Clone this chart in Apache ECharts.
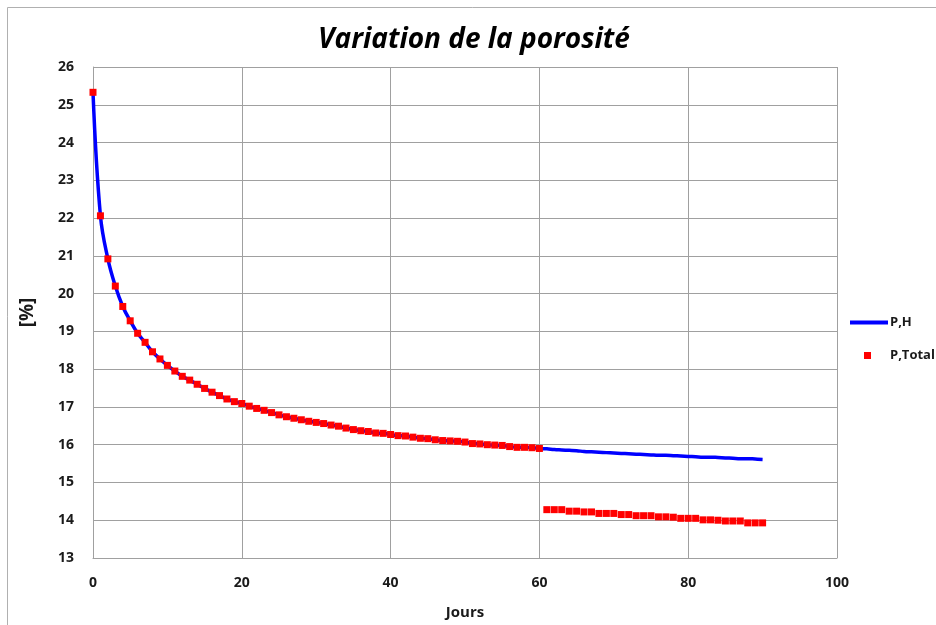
<!DOCTYPE html>
<html>
<head>
<meta charset="utf-8">
<script src="https://cdn.jsdelivr.net/npm/echarts@6/dist/echarts.min.js"></script>
<style>
  html, body { margin: 0; padding: 0; background: #fff; }
  #chart { width: 936px; height: 625px; }
</style>
</head>
<body>
<div id="chart"></div>
<script>
// Porosity (%) measured per day
const totalEarly = [
  25.33, 22.06, 20.92, 20.20, 19.66, 19.28, 18.95, 18.71, 18.46, 18.27,
  18.10, 17.95, 17.81, 17.71, 17.60, 17.49, 17.39, 17.30, 17.21, 17.14,
  17.09, 17.02, 16.96, 16.91, 16.85, 16.79, 16.74, 16.70, 16.66, 16.62,
  16.59, 16.56, 16.52, 16.49, 16.44, 16.40, 16.37, 16.35, 16.31, 16.30,
  16.27, 16.24, 16.23, 16.20, 16.17, 16.16, 16.13, 16.11, 16.10, 16.09,
  16.07, 16.03, 16.02, 16.00, 15.99, 15.98, 15.95, 15.93, 15.93, 15.92,
  15.90
];
// days 61..90
const totalLate = [
  14.28, 14.28, 14.28, 14.24, 14.24, 14.22, 14.22, 14.18, 14.18, 14.18,
  14.15, 14.15, 14.12, 14.12, 14.12, 14.09, 14.09, 14.08, 14.05, 14.05,
  14.05, 14.01, 14.01, 14.00, 13.98, 13.98, 13.98, 13.93, 13.93, 13.93
];
// P,H curve, days 0..90
const pH = [
  25.33, 22.06, 20.92, 20.20, 19.66, 19.28, 18.95, 18.71, 18.46, 18.27,
  18.10, 17.95, 17.81, 17.71, 17.60, 17.49, 17.39, 17.30, 17.21, 17.14,
  17.09, 17.02, 16.96, 16.91, 16.85, 16.79, 16.74, 16.70, 16.66, 16.62,
  16.59, 16.56, 16.52, 16.49, 16.44, 16.40, 16.37, 16.35, 16.31, 16.30,
  16.27, 16.24, 16.23, 16.20, 16.17, 16.16, 16.13, 16.11, 16.10, 16.09,
  16.07, 16.03, 16.02, 16.00, 15.99, 15.98, 15.95, 15.93, 15.93, 15.92,
  15.90, 15.89, 15.87, 15.86, 15.85, 15.84, 15.82, 15.81, 15.80, 15.79,
  15.78, 15.77, 15.76, 15.75, 15.74, 15.73, 15.72, 15.72, 15.71, 15.70,
  15.69, 15.68, 15.67, 15.67, 15.66, 15.65, 15.64, 15.63, 15.63, 15.62,
  15.61
];
const lateStartDay = 61;

const seriesTotal = totalEarly.map((v, d) => [d, v])
  .concat(totalLate.map((v, i) => [lateStartDay + i, v]));
const seriesPH = pH.map((v, d) => [d, v]);

const FONT = '"Open Sans", "Liberation Sans", sans-serif';
const gridColor = '#a0a0a0';
const legendText = { fontFamily: FONT, fontSize: 13, fontWeight: 'bold', color: '#1a1a1a' };

const chart = echarts.init(document.getElementById('chart'), null, { renderer: 'canvas' });
chart.setOption({
  backgroundColor: '#fff',
  animation: false,
  textStyle: { fontFamily: FONT },
  title: {
    text: 'Variation de la porosité',
    left: 313,
    top: 21,
    textStyle: { fontFamily: FONT, fontSize: 28, fontWeight: 'bold', fontStyle: 'italic', color: '#000' }
  },
  graphic: [{
    type: 'rect',
    shape: { x: 7.5, y: 7.5, width: 960, height: 700 },
    style: { fill: 'none', stroke: '#b0b0b0', lineWidth: 1 },
    silent: true
  }],
  grid: { left: 93, top: 67, right: 99, bottom: 61 },
  legend: [{
    left: 845,
    top: 311,
    itemWidth: 38,
    itemHeight: 4,
    data: [{ name: 'P,H', icon: 'rect' }],
    textStyle: Object.assign({ padding: [0, 0, 0, -3] }, legendText)
  }, {
    left: 859,
    top: 344,
    itemWidth: 7,
    itemHeight: 7,
    data: [{ name: 'P,Total', icon: 'rect' }],
    textStyle: Object.assign({ padding: [0, 0, 0, 14] }, legendText)
  }],
  xAxis: {
    type: 'value',
    min: 0, max: 100, interval: 20,
    name: 'Jours',
    nameLocation: 'middle',
    nameGap: 47,
    nameTextStyle: { fontFamily: FONT, fontSize: 15, fontWeight: 'bold', color: '#1a1a1a' },
    axisLine: { show: true, lineStyle: { color: gridColor, width: 1 } },
    axisTick: { show: false },
    axisLabel: { margin: 18, fontFamily: FONT, fontSize: 14, fontWeight: 'bold', color: '#1a1a1a' },
    splitLine: { show: true, lineStyle: { color: gridColor, width: 1 } }
  },
  yAxis: {
    type: 'value',
    min: 13, max: 26, interval: 1,
    name: '[%]',
    nameLocation: 'middle',
    nameGap: 56,
    nameRotate: 90,
    nameTextStyle: { fontFamily: FONT, fontSize: 19, fontWeight: 'bold', color: '#1a1a1a' },
    axisLine: { show: true, lineStyle: { color: gridColor, width: 1 } },
    axisTick: { show: false },
    axisLabel: { margin: 19, fontFamily: FONT, fontSize: 14, fontWeight: 'bold', color: '#1a1a1a' },
    splitLine: { show: true, lineStyle: { color: gridColor, width: 1 } }
  },
  series: [{
    name: 'P,H',
    type: 'line',
    data: seriesPH,
    smooth: 0.4,
    showSymbol: false,
    symbol: 'none',
    lineStyle: { color: '#0000ff', width: 3.5 },
    itemStyle: { color: '#0000ff' },
    z: 2
  }, {
    name: 'P,Total',
    type: 'scatter',
    data: seriesTotal,
    symbol: 'rect',
    symbolSize: 7,
    itemStyle: { color: '#ff0000', opacity: 1 },
    z: 3
  }]
});
</script>
</body>
</html>
